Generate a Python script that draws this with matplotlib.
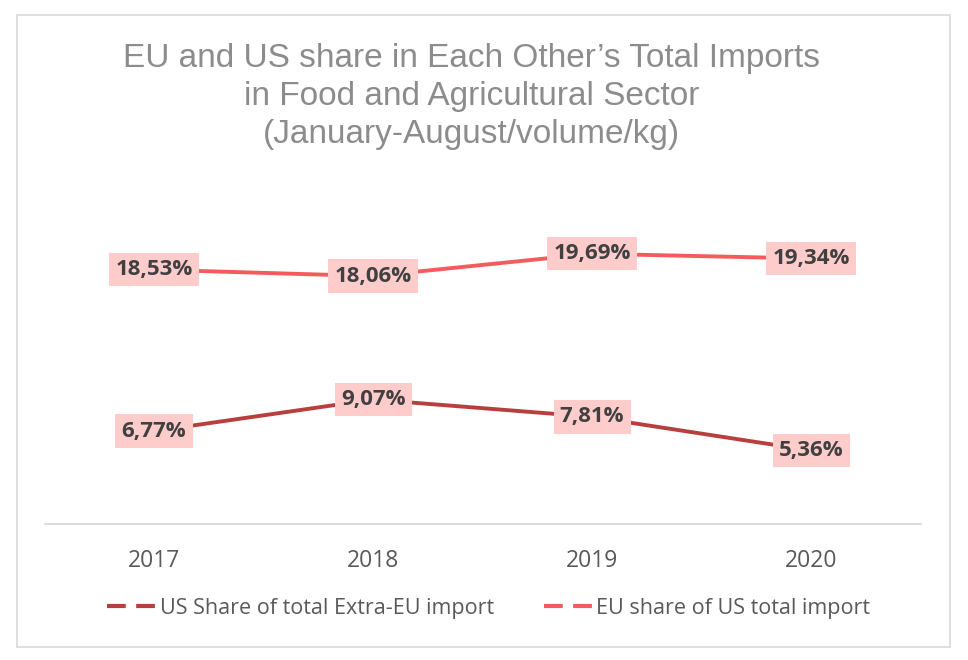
import matplotlib.pyplot as plt
from matplotlib.lines import Line2D
from matplotlib.patches import Rectangle

# data
years = ["2017", "2018", "2019", "2020"]
us_share_extra_eu = [6.77, 9.07, 7.81, 5.36]
eu_share_us = [18.53, 18.06, 19.69, 19.34]
series_names = ["US Share of total Extra-EU import", "EU share of US total import"]

title = ("EU and US share in Each Other\u2019s Total Imports\n"
         "in Food and Agricultural Sector\n"
         "(January-August/volume/kg)")

dark_red = "#b7403f"
light_red = "#f45b5d"
box_color = "#ffcccc"
text_dark = "#404040"
text_gray = "#595959"

fig = plt.figure(figsize=(9.68, 6.6), dpi=100)
ax = fig.add_axes([0.046, 0.206, 0.905, 0.52])

# outer frame of the chart
fig.patches.append(Rectangle((0.018, 0.02), 0.963, 0.957, transform=fig.transFigure,
                             fill=False, edgecolor="#d9d9d9", linewidth=1.2))

x = list(range(len(years)))
ax.plot(x, us_share_extra_eu, color=dark_red, linewidth=2.8, solid_capstyle="round")
ax.plot(x, eu_share_us, color=light_red, linewidth=2.8, solid_capstyle="round")


def fmt(v):
    return f"{v:.2f}".replace(".", ",") + "%"


# data labels in pink boxes
for series in (us_share_extra_eu, eu_share_us):
    for xi, v in zip(x, series):
        ax.text(xi, v, fmt(v), ha="center", va="center", fontsize=16, fontweight="bold",
                family="Open Sans", color=text_dark,
                bbox=dict(boxstyle="square,pad=0.28", facecolor=box_color, edgecolor="none"))

ax.set_xlim(-0.5, len(years) - 0.5)
ax.set_ylim(0, 25)
ax.set_xticks(x)
ax.set_xticklabels(years, family="Open Sans", fontsize=16.5, color=text_gray)
ax.tick_params(axis="x", length=0, pad=18)
ax.set_yticks([])
for side in ["top", "left", "right"]:
    ax.spines[side].set_visible(False)
ax.spines["bottom"].set_color("#d9d9d9")
ax.spines["bottom"].set_linewidth(1.3)

fig.text(0.487, 0.935, title, ha="center", va="top", fontsize=24, color="#8c8c8c",
         family="Liberation Sans", linespacing=1.3)

handles = [Line2D([0], [0], color=dark_red, linewidth=3, linestyle=(0, (4.5, 2.5))),
           Line2D([0], [0], color=light_red, linewidth=3, linestyle=(0, (4.5, 2.5)))]
leg = fig.legend(handles, series_names, loc="center", bbox_to_anchor=(0.505, 0.078), ncol=2,
                 frameon=False, handlelength=2.3, handletextpad=0.15, columnspacing=2.3,
                 prop={"family": "Open Sans", "size": 15.5})
for t in leg.get_texts():
    t.set_color(text_gray)

fig.savefig("out.png", dpi=100)
